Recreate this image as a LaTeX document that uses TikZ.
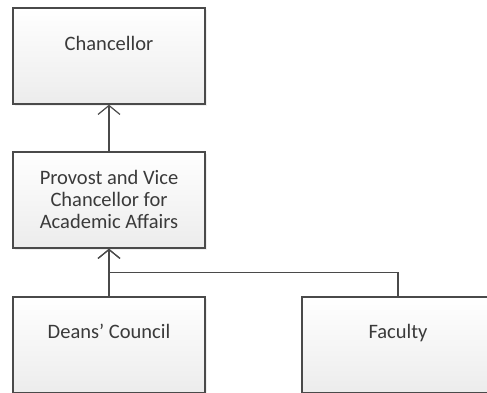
\documentclass[tikz,border=0pt]{standalone}
\usepackage{fontspec}
\setmainfont{Carlito}
\usetikzlibrary{arrows.meta,shadows}
\definecolor{edge}{HTML}{4A4A4A}
\definecolor{txt}{HTML}{3A3A3A}
\definecolor{boxbot}{HTML}{ECECEC}
\tikzset{
  box/.style={draw=edge, line width=1.4pt, minimum width=192pt, minimum height=96pt,
    inner sep=0pt, top color=white, bottom color=boxbot,
    drop shadow={shadow xshift=2pt, shadow yshift=-2pt, opacity=0.12}},
  lbl/.style={text=txt, font=\fontsize{20.5pt}{22pt}\selectfont, inner sep=0pt, align=center},
  arr/.style={draw=edge, line width=1.4pt, -{Straight Barb[length=9pt,width=22pt,line width=1.2pt]}}
}
\begin{document}
\begin{tikzpicture}[x=1pt,y=-1pt]
\useasboundingbox (0,0) rectangle (487,392);
\clip (0,0) rectangle (487,392);
\fill[white] (0,0) rectangle (487,392);
\node[box] (chan) at (109,56) {};
\node[box] (prov) at (109,200) {};
\node[box] (deans) at (109,345) {};
\node[box] (fac) at (398,345) {};
\node[lbl, anchor=base] (tchan) at (109,50) {Chancellor};
\node[lbl] (tprov) at (109,199) {Provost and Vice\\Chancellor for\\Academic Affairs};
\node[lbl, anchor=base] (tdeans) at (109,338) {Deans’ Council};
\node[lbl, anchor=base] (tfac) at (398,338) {Faculty};
\draw[arr] (prov.north) -- (chan.south);
\draw[arr] (deans.north) -- (prov.south);
\draw[arr] (fac.north) -- ++(0,-24) -| (prov.south);
\end{tikzpicture}
\end{document}
